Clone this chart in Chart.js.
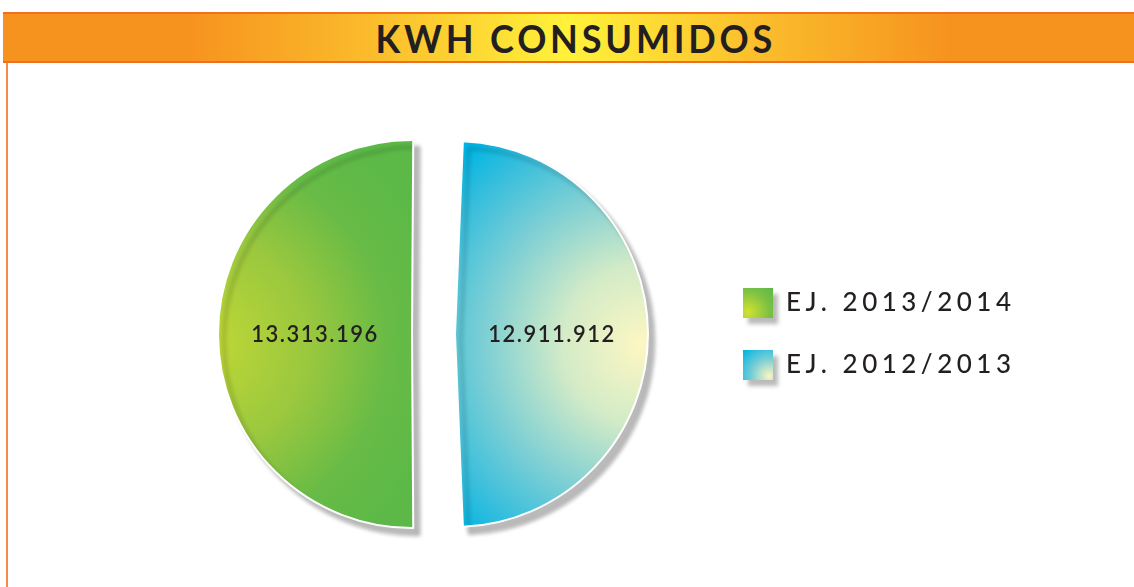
<!DOCTYPE html>
<html>
<head>
<meta charset="utf-8">
<script src="https://cdn.jsdelivr.net/npm/chart.js@4"></script>
<style>
  html, body { margin: 0; padding: 0; background: #fff; }
  body { width: 1134px; height: 587px; position: relative; overflow: hidden; }
  #titleBar {
    position: absolute; left: 3px; top: 12px; width: 1131px; height: 47px;
    border-top: 2px solid #f26f21; border-bottom: 2px solid #f26f21;
    background: linear-gradient(to right, #f6921e 0%, #f6921e 16%, #fbbd2c 33%, #fff23a 50%, #fbbd2c 67%, #f6921e 84%, #f6921e 100%);
    text-align: center; line-height: 48px;
  }
  #titleBar span {
    display: inline-block; margin-left: 14px;
    font-family: Lato, sans-serif; font-weight: 700; font-size: 38px; letter-spacing: 4px;
    color: #231f20; transform: scaleX(0.95);
  }
  #sideLine { position: absolute; left: 6px; top: 63px; width: 2px; height: 524px; background: #f58b4a; }
  #wrap { position: absolute; left: 8px; top: 62px; width: 1126px; height: 525px; }
</style>
</head>
<body>
<div id="titleBar"><span id="titleText"></span></div>
<div id="sideLine"></div>
<div id="wrap"><canvas id="kwhChart"></canvas></div>
<script>
// KWH consumidos por ejercicio
const chartTitle = 'KWH CONSUMIDOS';
const periods = ['EJ. 2013/2014', 'EJ. 2012/2013'];
const kwhValues = [13313196, 12911912];

document.getElementById('titleText').textContent = chartTitle;

// chart.js v4 moves a slice by offset/4 and grows its radius by the same amount
const SLICE_OFFSET = 86;
const SHIFT = SLICE_OFFSET / 4;
const PIE_RADIUS = 194 - SHIFT;
const LEGEND_W = 423;
const textColor = '#231f20';

function formatKwh(v) {
    return String(v).replace(/\B(?=(\d{3})+(?!\d))/g, '.');
}

// keep the split centred: first slice mid-angle points left
const total = kwhValues.reduce((a, b) => a + b, 0);
const rotation = 270 - (kwhValues[0] / total) * 180;

function sliceFill(context) {
    const chart = context.chart;
    const area = chart.chartArea;
    const i = context.dataIndex;
    if (!area) return i === 0 ? '#8cc540' : '#6fcad6';
    const cx = (area.left + area.right) / 2;
    const cy = (area.top + area.bottom) / 2;
    const g = chart.ctx;
    if (i === 0) {
        const x0 = cx - SHIFT - 190;
        const grad = g.createRadialGradient(x0, cy + 10, 0, x0, cy + 10, 250);
        grad.addColorStop(0, '#c3d935');
        grad.addColorStop(0.45, '#98c73f');
        grad.addColorStop(0.75, '#68bb46');
        grad.addColorStop(1, '#5cb947');
        return grad;
    }
    const x1 = cx + SHIFT + 165;
    const grad = g.createRadialGradient(x1, cy + 11, 0, x1, cy + 11, 262);
    grad.addColorStop(0, '#fdf7c3');
    grad.addColorStop(0.3, '#d3ebc7');
    grad.addColorStop(0.6, '#7dcfd4');
    grad.addColorStop(0.82, '#3bbfdc');
    grad.addColorStop(1, '#00b5e3');
    return grad;
}

const pieExtras = {
    id: 'pieExtras',
    beforeLayout(chart) {
        if (chart.legend && !chart.legend._wPatched) {
            const origFit = chart.legend.fit;
            chart.legend.fit = function() {
                origFit.call(this);
                this.width = LEGEND_W;
            };
            chart.legend._wPatched = true;
        }
    },
    beforeDraw(chart) {
        chart.ctx.letterSpacing = '4.5px';
    },
    beforeDatasetsDraw(chart) {
        const ctx = chart.ctx;
        ctx.save();
        ctx.shadowColor = 'rgba(0,0,0,0.27)';
        ctx.shadowOffsetX = 6;
        ctx.shadowOffsetY = 7;
        ctx.shadowBlur = 4;
    },
    afterDatasetsDraw(chart) {
        const ctx = chart.ctx;
        ctx.restore();
        const meta = chart.getDatasetMeta(0);
        ctx.save();
        ctx.letterSpacing = '1.5px';
        ctx.font = '600 22px Lato, sans-serif';
        ctx.fillStyle = textColor;
        ctx.textAlign = 'center';
        ctx.textBaseline = 'middle';
        meta.data.forEach((arc, i) => {
            const p = arc.getProps(['x', 'y', 'startAngle', 'endAngle', 'outerRadius']);
            const mid = (p.startAngle + p.endAngle) / 2;
            const d = SHIFT + (p.outerRadius + SHIFT) / 2;
            ctx.fillText(formatKwh(kwhValues[i]), p.x + Math.cos(mid) * d, p.y + Math.sin(mid) * d + 1);
        });
        ctx.restore();
    },
    afterDraw(chart) {
        const boxes = chart.legend && chart.legend.legendHitBoxes;
        if (!boxes) return;
        const ctx = chart.ctx;
        boxes.forEach((hb, i) => {
            const x = hb.left, y = hb.top, s = 30;
            let grad;
            if (i === 0) {
                grad = ctx.createRadialGradient(x + 5, y + s - 6, 0, x + 5, y + s - 6, 34);
                grad.addColorStop(0, '#d2e22e');
                grad.addColorStop(0.6, '#7fc243');
                grad.addColorStop(1, '#5cb947');
            } else {
                grad = ctx.createRadialGradient(x + s - 4, y + s - 4, 0, x + s - 4, y + s - 4, 36);
                grad.addColorStop(0, '#fbf5c0');
                grad.addColorStop(0.5, '#74cdd6');
                grad.addColorStop(1, '#00b5e3');
            }
            ctx.save();
            ctx.shadowColor = 'rgba(0,0,0,0.27)';
            ctx.shadowOffsetX = 5;
            ctx.shadowOffsetY = 6;
            ctx.shadowBlur = 4;
            ctx.fillStyle = grad;
            ctx.fillRect(x, y, s, s);
            ctx.restore();
        });
    }
};

new Chart(document.getElementById('kwhChart'), {
    type: 'pie',
    data: {
        labels: periods,
        datasets: [{
            data: kwhValues,
            backgroundColor: sliceFill,
            borderColor: '#ffffff',
            borderWidth: 2,
            offset: SLICE_OFFSET
        }]
    },
    options: {
        responsive: true,
        maintainAspectRatio: false,
        animation: false,
        events: [],
        rotation: rotation,
        radius: PIE_RADIUS,
        layout: { padding: { left: 148, top: 19, right: 0, bottom: 0 } },
        plugins: {
            tooltip: { enabled: false },
            legend: {
                position: 'right',
                align: 'center',
                labels: {
                    boxWidth: 30,
                    boxHeight: 30,
                    padding: 32,
                    color: textColor,
                    font: { family: 'Lato, sans-serif', size: 26, weight: '500' },
                    generateLabels(chart) {
                        const items = Chart.overrides.pie.plugins.legend.labels.generateLabels(chart);
                        return items.map(it => Object.assign(it, {
                            fillStyle: 'rgba(0,0,0,0)',
                            strokeStyle: 'rgba(0,0,0,0)',
                            lineWidth: 0
                        }));
                    }
                }
            }
        }
    },
    plugins: [pieExtras]
});
</script>
</body>
</html>
